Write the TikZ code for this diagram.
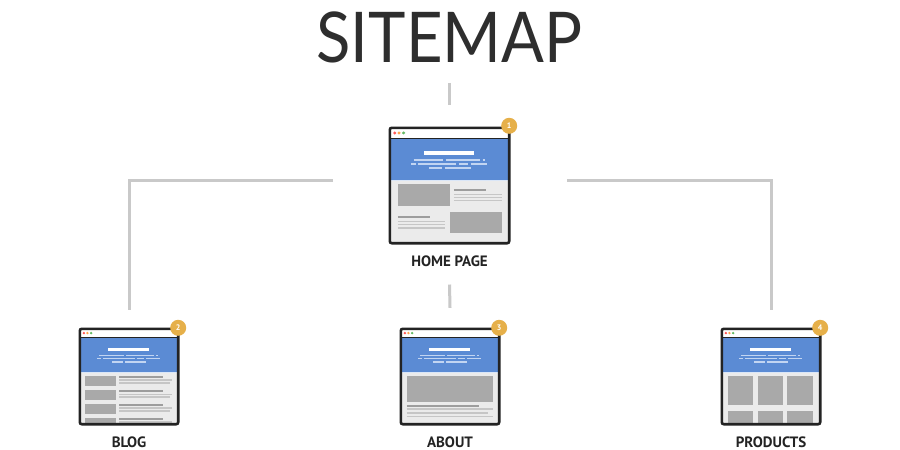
\documentclass[tikz,border=0pt]{standalone}
\usepackage{fontspec}
\usepackage{tikz}
\usetikzlibrary{positioning}
\usetikzlibrary{calc}
\newfontfamily\titlefont{Lato}
\newfontfamily\labelfont{PT Sans}

\definecolor{linkgray}{HTML}{C9C9C9}
\definecolor{framedark}{HTML}{232323}
\definecolor{headblue}{HTML}{5B8BD4}
\definecolor{paleblue}{HTML}{C2D5F2}
\definecolor{bodygray}{HTML}{EBEBEB}
\definecolor{boxgray}{HTML}{A9A9A9}
\definecolor{textdark}{HTML}{9D9D9D}
\definecolor{textlight}{HTML}{C6C6C6}
\definecolor{badgegold}{HTML}{E6B04A}

\tikzset{
  link/.style={line width=3pt,color=linkgray},
  window/.style={rectangle,fill=bodygray,rounded corners=2pt,inner sep=0pt},
  winframe/.style={line width=2.6pt,draw=framedark,rounded corners=2pt},
  badge/.style={circle,fill=badgegold,text=white,inner sep=0pt,minimum size=16pt,font=\labelfont\bfseries\fontsize{8}{8}\selectfont},
  pagelabel/.style={inner sep=0pt,font=\labelfont\bfseries\fontsize{15}{15}\selectfont,text=framedark},
  sheetline/.style={line width=1.4pt,color=paleblue},
  darkline/.style={line width=1.8pt,color=textdark},
  lightline/.style={line width=1.3pt,color=textlight}
}

% browser header, local coordinates 0..100
\newcommand{\winhead}{%
  \fill[white] (0,0) rectangle (100,9);
  \fill[headblue] (0,9) rectangle (100,45);
  \fill[paleblue!60] (0,45) rectangle (100,46.5);
  \draw[framedark,line width=1.2pt] (0,9) -- (100,9);
  \fill[red!65] (4.2,4.5) circle (1.4);
  \fill[orange!70] (7.8,4.5) circle (1.4);
  \fill[green!55!black!60] (11.6,4.5) circle (1.4);
  \fill[white] (29,20.5) rectangle (71,23.5);
  \draw[sheetline] (20,28) -- (45,28) (47,28) -- (76,28) (78,28) -- (80,28);
  \draw[sheetline] (18,31.5) -- (22,31.5) (24,31.5) -- (56,31.5) (58,31.5) -- (66,31.5) (68,31.5) -- (82,31.5);
  \draw[sheetline] (33,35) -- (44,35) (46,35) -- (68,35);
}

\begin{document}
\begin{tikzpicture}[x=1pt,y=-1pt]
\useasboundingbox (0,0) rectangle (900,450);
\fill[white] (0,0) rectangle (900,450);

% title
\node[inner sep=0pt,xscale=.905,font=\titlefont\fontsize{70}{70}\selectfont,text=framedark!95] (title) at (449.5,37) {SITEMAP};

% windows
\node[window,minimum width=119pt,minimum height=115pt] (home) at (449.5,185.5) {};
\node[window,minimum width=98pt,minimum height=95pt] (blog) at (129,376.5) {};
\node[window,minimum width=98pt,minimum height=95pt] (about) at (450,376.5) {};
\node[window,minimum width=98pt,minimum height=95pt] (products) at (771,376.5) {};

% home page
\begin{scope}[shift={(home.north west)},xscale=1.19,yscale=1.15]
\clip[rounded corners=2pt] (0,0) rectangle (100,100);
\winhead
\fill[boxgray] (6.7,48.7) rectangle (50.4,67.8);
\draw[darkline] (53.8,54) -- (80.7,54);
\foreach \y in {58.3,60.9,63.5} \draw[lightline] (53.8,\y) -- (94,\y);
\draw[darkline] (6.7,77.4) -- (33.6,77.4);
\foreach \y in {81.7,84.3,87} \draw[lightline] (6.7,\y) -- (46,\y);
\fill[boxgray] (50.4,73) rectangle (94,91.3);
\end{scope}

% blog
\begin{scope}[shift={(blog.north west)},xscale=.98,yscale=.95]
\clip[rounded corners=2pt] (0,0) rectangle (100,100);
\winhead
\foreach \y in {49.5,64.3,79,93.7} {
  \fill[boxgray] (5.5,\y) rectangle (36.5,\y+10.5);
  \draw[darkline] (40,\y+1) -- (85,\y+1);
  \draw[lightline] (40,\y+4.5) -- (94,\y+4.5);
  \draw[lightline] (40,\y+7.5) -- (92,\y+7.5);
}
\end{scope}

% about
\begin{scope}[shift={(about.north west)},xscale=.98,yscale=.95]
\clip[rounded corners=2pt] (0,0) rectangle (100,100);
\winhead
\fill[boxgray] (6,49.5) rectangle (94,77);
\draw[darkline] (6,81) -- (80,81);
\draw[lightline] (6,84.5) -- (94,84.5);
\draw[lightline] (6,88.5) -- (89,88.5);
\draw[lightline] (6,92) -- (94,92);
\end{scope}

% products
\begin{scope}[shift={(products.north west)},xscale=.98,yscale=.95]
\clip[rounded corners=2pt] (0,0) rectangle (100,100);
\winhead
\foreach \x in {6,36.5,67} {
  \fill[boxgray] (\x,49.5) rectangle (\x+26,80);
  \fill[boxgray] (\x,87) rectangle (\x+26,105);
}
\end{scope}

% frames
\foreach \w in {home,blog,about,products}
  \draw[winframe] (\w.north west) rectangle (\w.south east);

% badges
\node[badge] (b1) at ([yshift=2pt]home.north east) {1};
\node[badge] (b2) at ([yshift=1pt]blog.north east) {2};
\node[badge] (b3) at ([yshift=1pt]about.north east) {3};
\node[badge] (b4) at ([yshift=1pt]products.north east) {4};

% labels
\node[pagelabel,below=12pt of home] (homelbl) {HOME PAGE};
\node[pagelabel,below=12.5pt of blog] (bloglbl) {BLOG};
\node[pagelabel,below=12.5pt of about] (aboutlbl) {ABOUT};
\node[pagelabel,below=12.5pt of products] (productslbl) {PRODUCTS};

% links
\coordinate (lstart) at (333,180);
\coordinate (rstart) at (567,180);
\coordinate (lcorner) at (blog.north |- lstart);
\coordinate (rcorner) at (products.north |- rstart);
\draw[link] ([yshift=-20pt]title.south) -- ([yshift=23pt]home.north);
\draw[link] (lstart) -- (lcorner) -- ([yshift=19pt]blog.north);
\draw[link] (rstart) -- (rcorner) -- ([yshift=19pt]products.north);
\draw[link] ([yshift=-18pt]homelbl.south) -- ([yshift=21pt]about.north);
\end{tikzpicture}
\end{document}
